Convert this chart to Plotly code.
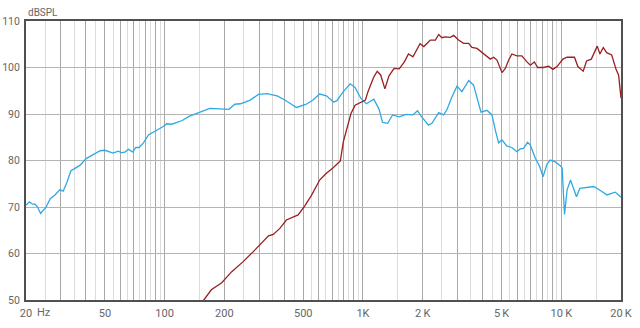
import math
import plotly.graph_objects as go

# ---------------- data ----------------
freq_blue = [20, 20.8, 21.6, 22.2, 22.8, 23.7, 24.2, 25.2, 26.5, 28, 29.6, 30.8, 32.1, 33.7, 35.3,
             37.5, 40.2, 42.9, 47.3, 50, 53, 55, 58.3, 60.6, 63, 65.8, 69.2, 71.5, 74.3, 78.2,
             82.9, 87.9, 93, 98.4, 102.5, 108.8, 115.4, 122.6, 132.7, 150, 169, 190, 205, 211,
             226, 241, 270, 297, 328, 369, 404, 462, 518, 560, 605, 655, 710, 737, 796, 862,
             912, 975, 1040, 1090, 1135, 1206, 1255, 1332, 1410, 1524, 1650, 1782, 1885, 1960,
             2027, 2140, 2227, 2408, 2548, 2650, 2810, 2980, 3155, 3412, 3612, 3758, 3936, 4220,
             4470, 4646, 4830, 5024, 5320, 5636, 5970, 6205, 6450, 6760, 6980, 7400, 7780, 8090,
             8470, 8800, 9330, 9980, 10100, 10380, 10700, 11130, 11930, 12400, 14590, 15820,
             16980, 18700, 20000]
spl_blue = [70.4, 71.1, 70.6, 70.6, 70.1, 68.6, 69.1, 69.9, 71.8, 72.6, 73.7, 73.4, 75.2, 77.8, 78.3,
            79.0, 80.4, 81.1, 82.1, 82.2, 81.8, 81.6, 82.0, 81.7, 81.8, 82.4, 81.8, 82.8, 82.8, 83.8,
            85.5, 86.1, 86.7, 87.3, 87.9, 87.8, 88.2, 88.6, 89.5, 90.4, 91.2, 91.1, 91.1, 91.0,
            92.1, 92.2, 93.0, 94.2, 94.4, 93.9, 93.0, 91.4, 92.1, 93.0, 94.3, 93.9, 92.6, 92.8, 94.8, 96.5,
            95.7, 93.4, 92.2, 92.7, 93.2, 91.0, 88.2, 88.0, 89.8, 89.4, 89.9, 89.8, 90.7, 89.6,
            88.9, 87.6, 88.0, 90.3, 89.8, 90.9, 93.7, 96.0, 94.8, 97.2, 96.2, 93.7, 90.4, 90.8,
            89.8, 86.6, 83.8, 84.4, 83.1, 82.8, 81.9, 82.5, 82.6, 83.9, 83.3, 80.5, 78.7, 76.5,
            79.2, 80.1, 79.7, 78.7, 78.3, 68.4, 73.7, 75.8, 72.2, 74.0, 74.4, 73.5,
            72.6, 73.2, 72.1]

freq_red = [150, 157.6, 172, 194, 218, 248, 280, 308, 334, 353, 381, 411, 445, 471, 508, 548, 605,
            652, 710, 769, 796, 830, 870, 913, 985, 1029, 1060, 1135, 1180, 1228, 1290, 1353, 1435,
            1524, 1617, 1696, 1786, 1895, 1940, 2027, 2105, 2185, 2318, 2408, 2500, 2600, 2758, 2867,
            3035, 3215, 3410, 3545, 3758, 3980, 4220, 4385, 4560, 4740, 5024, 5220, 5430, 5636, 5970,
            6327, 6710, 6980, 7320, 7600, 8150, 8630, 9080, 9515, 10190, 10700, 11660, 12120, 12900,
            13410, 14170, 15180, 15660, 16280, 16930, 17950, 18920, 19450, 20000]
spl_red = [48.9, 50.0, 52.2, 53.7, 56.1, 58.2, 60.4, 62.2, 63.8, 64.1, 65.4, 67.2, 67.9, 68.3, 70.2, 72.4, 75.8,
           77.2, 78.5, 79.9, 84.0, 86.9, 90.1, 91.9, 92.6, 93.0, 94.8, 98.0, 99.2, 98.4, 95.4, 98.2, 99.8,
           99.7, 101.2, 102.9, 102.3, 104.5, 105.1, 104.5, 105.3, 105.9, 105.9, 107.1, 106.4, 106.6, 106.5, 106.9,
           105.9, 105.2, 105.2, 104.3, 104.1, 103.3, 102.3, 101.8, 102.2, 101.6, 98.9, 99.8, 101.6, 102.9, 102.5,
           102.5, 101.2, 100.5, 101.2, 100.0, 100.0, 100.3, 99.6, 100.2, 101.8, 102.2, 102.2, 100.2, 99.2,
           101.4, 101.8, 104.6, 102.9, 104.3, 103.2, 102.7, 99.5, 98.4, 93.4]

# axis ticks
major_ticks = [20, 30, 40, 50, 60, 70, 80, 90, 100, 200, 300, 400, 500, 600, 700, 800, 900,
               1000, 2000, 3000, 4000, 5000, 6000, 7000, 8000, 9000, 10000, 20000]
major_labels = {20: "20", 50: "50", 100: "100", 200: "200", 500: "500", 1000: "1K",
                2000: "2\u2009K", 5000: "5\u2009K", 10000: "10\u2009K", 20000: "20\u2009K"}
minor_ticks = [25, 35, 45, 55, 65, 75, 85, 95, 150, 250, 350, 450, 550, 650, 750, 850, 950,
               1500, 2500, 3500, 4500, 5500, 6500, 7500, 8500, 9500, 15000]
y_ticks = [50, 60, 70, 80, 90, 100, 110]
x_unit = "Hz"
y_unit = "dBSPL"

FONT = "Liberation Sans Narrow, Roboto, Arial, sans-serif"
TXT = "#666666"

fig = go.Figure()
fig.add_trace(go.Scatter(x=freq_blue, y=spl_blue, mode="lines",
                         line=dict(color="#2fa9e3", width=1.3), showlegend=False))
fig.add_trace(go.Scatter(x=freq_red, y=spl_red, mode="lines",
                         line=dict(color="#9a1f22", width=1.3), showlegend=False))

fig.update_xaxes(type="log", range=[math.log10(20), math.log10(20000)],
                 tickmode="array", tickvals=major_ticks,
                 ticktext=[major_labels.get(t, "") for t in major_ticks],
                 showgrid=True, gridcolor="#a8a8a8", gridwidth=1,
                 minor=dict(tickmode="array", tickvals=minor_ticks, showgrid=True,
                            gridcolor="#dcdcdc", gridwidth=1, ticks=""),
                 ticks="", showline=True, mirror=True, linecolor="#505050", linewidth=2,
                 automargin=False, ticklabelstandoff=2,
                 tickfont=dict(family=FONT, size=11, color=TXT), zeroline=False)
fig.update_yaxes(range=[50, 110], tickmode="array", tickvals=y_ticks,
                 showgrid=True, gridcolor="#b4b4b4", gridwidth=1,
                 ticks="", showline=True, mirror=True, linecolor="#505050", linewidth=2,
                 automargin=False, ticklabelstandoff=2,
                 tickfont=dict(family=FONT, size=10.5, color=TXT), zeroline=False)

fig.add_annotation(x=0, y=1.0, xref="paper", yref="paper", xanchor="left", yanchor="bottom",
                   yshift=1, text=y_unit, showarrow=False,
                   font=dict(family=FONT, size=10, color=TXT))
fig.add_annotation(x=math.log10(20), y=0, xref="x", yref="paper", xanchor="left", yanchor="top",
                   xshift=9, yshift=-4, text=x_unit, showarrow=False,
                   font=dict(family=FONT, size=11, color=TXT))

fig.update_layout(width=640, height=328, margin=dict(l=26, r=19, t=21, b=28),
                  paper_bgcolor="white", plot_bgcolor="white")

fig.write_html("out.html")
